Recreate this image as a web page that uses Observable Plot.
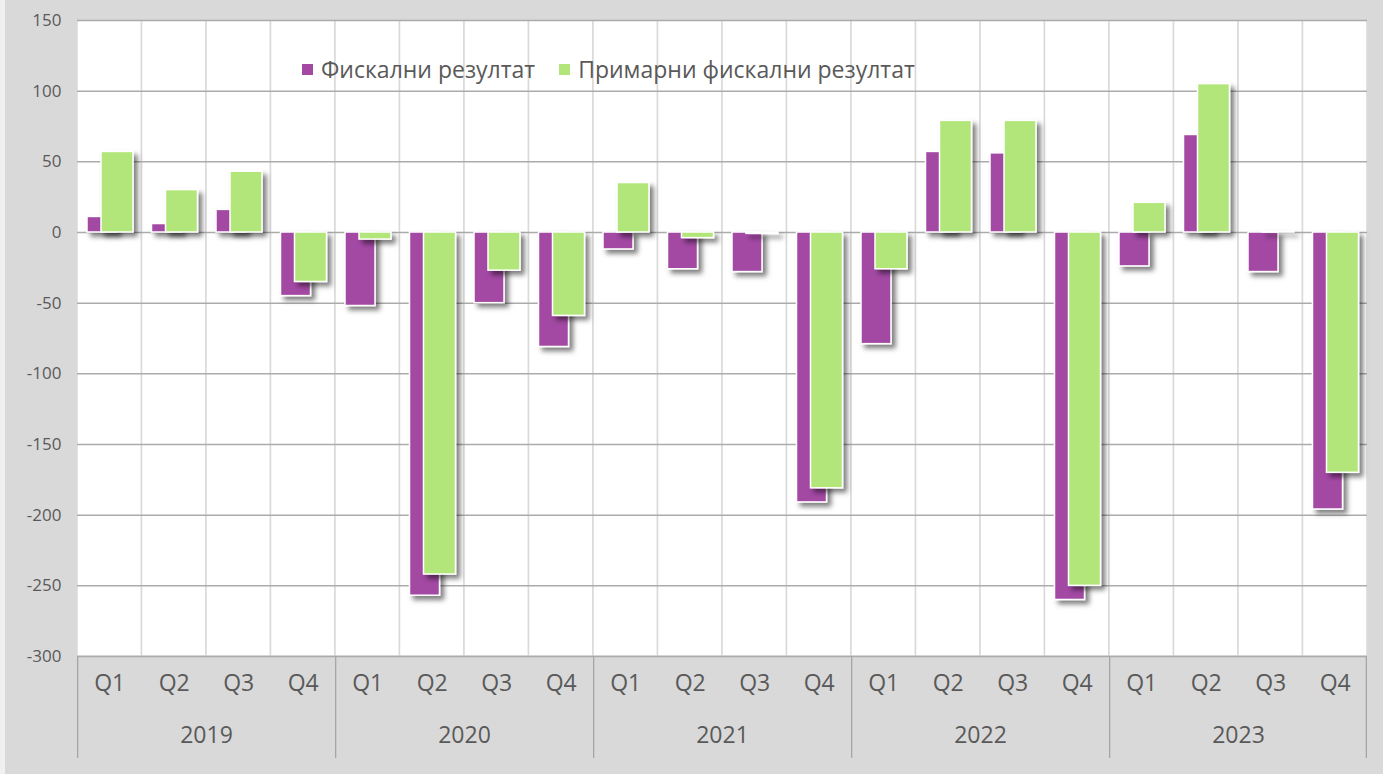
<!DOCTYPE html>
<html><head><meta charset="utf-8">
<script src="https://cdn.jsdelivr.net/npm/d3@7"></script>
<script src="https://cdn.jsdelivr.net/npm/@observablehq/plot@0.6"></script>
<style>
html,body{margin:0;padding:0}
body{background:linear-gradient(to right,#f0f0f0 0 5px,#d9d9d9 5px);width:1383px;height:774px;overflow:hidden;font-family:"Open Sans",sans-serif}
#wrap{position:relative;width:1383px;height:774px}
#wrap svg{position:absolute;left:0;top:0}
#legend{position:absolute;left:302px;top:53px;display:flex;align-items:center;font-size:23px;color:#595959;white-space:nowrap;line-height:32px}
#legend .item{display:flex;align-items:center;margin-right:24px}
#legend .sw{display:inline-block;width:11px;height:11px;margin-right:8px}
</style></head><body><div id="wrap"><div id="legend"></div></div>
<script>
const years = ["2019","2020","2021","2022","2023"];
const quarters = ["Q1","Q2","Q3","Q4"];
const fiscal  = [11, 6, 16, -45,  -52, -257, -50, -81,  -12, -26, -28, -191,  -79, 57, 56, -260,  -24, 69, -28, -196];
const primary = [57, 30, 43, -35,  -5, -242, -27, -59,  35, -4, -1, -181,  -26, 79, 79, -250,  21, 105, 0.5, -170];
const yTicks = [150, 100, 50, 0, -50, -100, -150, -200, -250, -300];
const seriesNames = ["Фискални резултат", "Примарни фискални резултат"];
const colors = ["#a349a4", "#b3e67a"];

const W = 1383, H = 774, mL = 77, mR = 16, mT = 20, mB = 118;
const plotH = H - mT - mB;
const bw = (W - mL - mR) / (years.length * quarters.length);
const yMin = d3.min(yTicks), yMax = d3.max(yTicks);
const axisBandPx = 102;
const yFloor = yMin - axisBandPx * (yMax - yMin) / plotH;

const rows = years.flatMap((y, i) => quarters.map((q, j) => ({
  key: y + " " + q, year: y, q,
  fiscal: fiscal[i * 4 + j], primary: primary[i * 4 + j]
})));
const keys = rows.map(d => d.key);
const lastKey = keys[keys.length - 1];

const chart = Plot.plot({
  width: W, height: H,
  marginLeft: mL, marginRight: mR, marginTop: mT, marginBottom: mB,
  style: {background: "transparent", fontFamily: "Open Sans, sans-serif", fontSize: "17px", color: "#595959", overflow: "visible"},
  x: {domain: keys, padding: 0, round: false, axis: null},
  y: {domain: [yMin, yMax], ticks: yTicks, tickSize: 0, tickPadding: 16, tickFormat: d => String(d), label: null},
  marks: [
    Plot.cell(rows, {x: "key", fill: "white", stroke: "#d9d9d9", strokeWidth: 1.5, inset: 0}),
    Plot.ruleY(yTicks, {stroke: "#ababab", strokeWidth: 1.5}),
    Plot.barY(rows, {x: "key", y: "fiscal", fill: colors[0], stroke: "white", strokeWidth: 1.5, insetLeft: 10, insetRight: bw - 40}),
    Plot.barY(rows, {x: "key", y: "primary", fill: colors[1], stroke: "white", strokeWidth: 1.5, insetLeft: 24, insetRight: bw - 56}),
    Plot.barY(rows.filter(d => d.q === "Q1"), {x: "key", y1: yMin, y2: yFloor, fill: "#a6a6a6", insetLeft: 0, insetRight: bw - 1.3}),
    Plot.barY(rows.filter(d => d.key === lastKey), {x: "key", y1: yMin, y2: yFloor, fill: "#a6a6a6", insetLeft: bw - 1.3, insetRight: 0}),
    Plot.text(rows, {x: "key", text: "q", frameAnchor: "bottom", dy: 34, fontSize: 23, fill: "#595959"}),
    Plot.text(rows.filter(d => d.q === "Q2"), {x: "key", text: "year", frameAnchor: "bottom", dy: 86, dx: bw / 2, fontSize: 23, fill: "#595959"})
  ]
});

// drop shadow on the data bars
const ns = "http://www.w3.org/2000/svg";
const defs = document.createElementNS(ns, "defs");
defs.innerHTML = '<filter id="barShadow" x="-30%" y="-10%" width="170%" height="125%"><feDropShadow dx="4" dy="4" stdDeviation="2.8" flood-color="#000" flood-opacity="0.5"/></filter>';
chart.insertBefore(defs, chart.firstChild);
chart.querySelectorAll('g[aria-label="bar"]').forEach(g => {
  const f = (g.getAttribute("fill") || "").toLowerCase();
  if (f === colors[0] || f === colors[1]) g.setAttribute("filter", "url(#barShadow)");
});

document.getElementById("wrap").prepend(chart);

const legend = document.getElementById("legend");
seriesNames.forEach((name, i) => {
  const item = document.createElement("span");
  item.className = "item";
  const sw = document.createElement("span");
  sw.className = "sw";
  sw.style.background = colors[i];
  item.appendChild(sw);
  item.appendChild(document.createTextNode(name));
  legend.appendChild(item);
});
</script>
</body></html>
